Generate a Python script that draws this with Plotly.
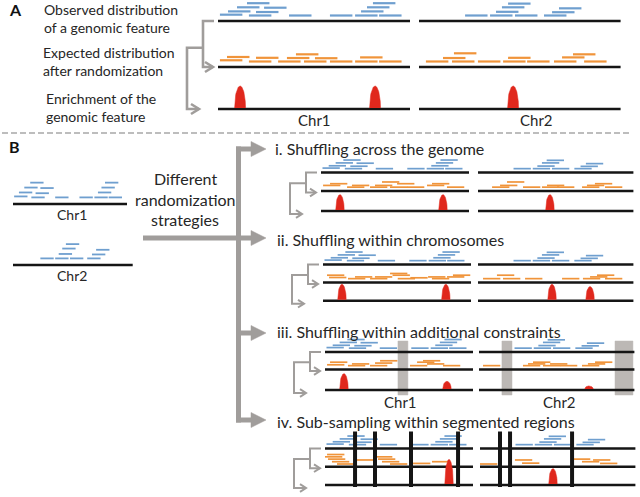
import numpy as np
import plotly.graph_objects as go

# ------------------------------------------------------------------ data
# Interval positions are in chromosome units (Chr1 = 100 units, Chr2 = 105 units);
# levels are stacking rows above the chromosome line.
CHR_LEN = [100, 105]
SEG_LEN = 11.7
PEAK_W = 5.7

# observed genomic feature (same in every panel)
OBS_CHR1_START = [15.1, 9.9, 24.0, 5.2, 19.8, 1.0, 16.1, 37.0, 58.3, 71.4, 83.9, 74.5, 77.6, 80.7]
OBS_CHR1_LEVEL = [3, 2, 1.9, 1, 0.85, 0.2, 0, 0, 0, 0, 0, 1, 2, 3]
OBS_CHR2_START = [46.4, 43.2, 40.1, 24.0, 37.0, 50.0, 72.9, 69.3, 65.1]
OBS_CHR2_LEVEL = [2.9, 2, 0.9, 0, 0, 0, 1.75, 0.8, 0]

# expected (randomised) intervals per panel
EXP_A_CHR1_START = [40.6, 4.7, 19.8, 35.9, 50.5, 74.0, 1.0, 16.1, 31.3, 44.8, 58.3, 71.4, 83.9]
EXP_A_CHR1_LEVEL = [1.75, 1.1, 0.9, 0.85, 0.8, 1.0, 0.3, 0, 0, 0, 0, 0, 0]
EXP_A_CHR2_START = [18.2, 12.5, 3.6, 17.2, 30.7, 43.8, 46.4, 56.3, 70.3, 74.5, 80.2, 86.0]
EXP_A_CHR2_LEVEL = [2, 0.85, 0, 0, 0, 0, 0.9, 0, 0, 1, 1.75, 0]

EXP_I_CHR1_START = [1.4, 6.1, 17.6, 20.9, 33.1, 36.5, 41.2, 46.6, 51.4, 58.1, 71.6, 75.0, 85.1]
EXP_I_CHR1_LEVEL = [0.6, 1.2, 0, 0.6, 0, 0.6, 1.8, 0, 1.2, 0, 0.6, 1.2, 0]
EXP_I_CHR2_START = [9.5, 14.9, 19.6, 30.4, 43.2, 46.6, 53.4, 70.3, 73.6, 79.0, 85.8]
EXP_I_CHR2_LEVEL = [0, 0.6, 1.8, 0, 0, 0.6, 0, 0, 0.6, 1.2, 0]

EXP_II_CHR1_START = [2.7, 4.1, 16.9, 21.6, 31.8, 35.1, 45.3, 47.0, 50.5, 59.0, 71.0, 73.6, 83.8, 87.8]
EXP_II_CHR1_LEVEL = [1.2, 0.4, 0, 0.6, 0, 0.6, 1.8, 1.2, 0, 0.3, 0.6, 0, 0.6, 1.2]
EXP_II_CHR2_START = [3.4, 12.8, 16.9, 31.8, 56.8, 70.9, 75.7, 80.4, 85.8]
EXP_II_CHR2_LEVEL = [0, 1.2, 0, 0, 0, 0, 0.6, 1.2, 0]

EXP_III_CHR1_START = [1.4, 3.4, 15.5, 18.2, 30.4, 33.8, 37.2, 57.4, 62.2, 66.2, 68.9, 79.7]
EXP_III_CHR1_LEVEL = [0.3, 1.2, 0, 0.6, 0, 0.9, 1.7, 0, 1.2, 1.7, 0.6, 0]
EXP_III_CHR2_START = [2.7, 29.7, 33.1, 36.5, 43.2, 48.0, 54.7, 69.6, 73.6, 78.4]
EXP_III_CHR2_LEVEL = [0, 0, 0.6, 1.2, 0, 0.6, 0, 0, 0.6, 1.2]

EXP_IV_CHR1_START = [0.0, 1.4, 2.0, 4.7, 8.1, 21.6, 33.8, 35.8, 38.5, 43.9, 59.5, 72.3]
EXP_IV_CHR1_LEVEL = [2.1, 2.9, 1.3, 0.4, -0.4, 1.0, 2.1, 1.3, 0.4, -0.4, -0.2, 0.4]
EXP_IV_CHR2_START = [0.0, 23.6, 28.4, 62.8, 68.9, 76.4, 81.1]
EXP_IV_CHR2_LEVEL = [-0.4, 1.0, -0.1, 1.3, 0.4, 1.0, -0.2]

# enrichment peaks: position (units) and relative height
PEAK_A_CHR1, PEAK_A_CHR1_H = [11.5, 81.8], [1.0, 1.0]
PEAK_A_CHR2, PEAK_A_CHR2_H = [49.0], [1.0]
PEAK_I_CHR1, PEAK_I_CHR1_H = [12.8, 82.4], [1.0, 1.0]
PEAK_I_CHR2, PEAK_I_CHR2_H = [48.6], [1.0]
PEAK_II_CHR1, PEAK_II_CHR1_H = [12.8, 83.0], [1.0, 1.0]
PEAK_II_CHR2, PEAK_II_CHR2_H = [50.0, 75.7], [1.0, 0.85]
PEAK_III_CHR1, PEAK_III_CHR1_H = [12.8, 82.4], [1.0, 0.5]
PEAK_III_CHR2, PEAK_III_CHR2_H = [74.3], [0.2]
PEAK_IV_CHR1, PEAK_IV_CHR1_H = [83.8], [1.6]
PEAK_IV_CHR2, PEAK_IV_CHR2_H = [49.3], [1.0]

# panel iii constraint regions (start, end units) and panel iv segment boundaries
CONSTRAINT_CHR1 = [(49.3, 56.0)]
CONSTRAINT_CHR2 = [(15.5, 22.3), (91.9, 104.0)]
BOUNDARY_CHR1 = [20.3, 33.8, 58.1, 89.9]
BOUNDARY_CHR2 = [13.5, 20.3, 62.2]

TEXT_A = ["Observed distribution", "of a genomic feature", "Expected distribution",
          "after randomization", "Enrichment of the", "genomic feature"]
TITLES_B = ["i. Shuffling across the genome", "ii. Shuffling within chromosomes",
            "iii. Shuffling within additional constraints", "iv. Sub-sampling within segmented regions"]
STRATEGY_TEXT = ["Different", "randomization", "strategies"]
CHR_NAMES = ["Chr1", "Chr2"]

# ------------------------------------------------------------------ style
BLUE = "#6f9fcf"
ORANGE = "#f0943a"
RED = "#e0281d"
BLACK = "#151515"
GRAY = "#a09d9b"
BARGRAY = "#bcb8b5"
TXT = "#262626"
FONT = "Lato"

fig = go.Figure()


def add_lines(xs, ys, color, width, dash=None):
    fig.add_trace(go.Scatter(x=xs, y=ys, mode="lines", hoverinfo="skip",
                             line=dict(color=color, width=width, dash=dash)))


def add_poly(xs, ys, color):
    fig.add_trace(go.Scatter(x=xs, y=ys, mode="lines", fill="toself", fillcolor=color,
                             hoverinfo="skip", line=dict(color=color, width=0.5)))


def features(x0, ppu, y_line, sy, starts, levels, color, width):
    xs, ys = [], []
    for s, l in zip(starts, levels):
        y = y_line - sy * (5.5 + 4.1 * l)
        xs += [x0 + s * ppu, x0 + (s + SEG_LEN) * ppu, None]
        ys += [y, y, None]
    add_lines(xs, ys, color, width)


def chrom_line(x0, ppu, y, length, width=2.6):
    add_lines([x0, x0 + length * ppu], [y, y], BLACK, width)


def peaks(x0, ppu, y_base, sy, pos, heights):
    xs, ys = [], []
    t = np.linspace(-1, 1, 41)
    for p, h in zip(pos, heights):
        cx = x0 + p * ppu
        hw = PEAK_W / 2 * ppu
        H = 22 * sy * h
        xs += list(cx + hw * t) + [None]
        ys += list(y_base - 1 - H * np.sqrt(1 - t ** 2)) + [None]
    add_poly(xs, ys, RED)


def chevron(xt, yt, L, h, width):
    add_lines([xt - L, xt, xt - L], [yt - h, yt, yt + h], GRAY, width)


def bracket(x0, y_obs, y_exp, y_enr, big):
    v1, v2 = x0 - 15, x0 - 31
    ym = y_obs + 0.58 * (y_exp - y_obs)
    w = 2.6 if big else 2.0
    yl = y_enr if big else y_enr + 3
    ye = y_exp if big else y_exp + 1.5
    add_lines([x0 - 4, v1, v1, x0 - 5], [y_obs, y_obs, ye, ye], GRAY, w)
    add_lines([v1, v2, v2, x0 - 19], [ym, ym, yl, yl], GRAY, w)
    L, h = (8, 5) if big else (6, 3.8)
    chevron(x0 - 5, ye, L, h, w)
    chevron(x0 - 19, yl, L, h, w)


PANELS = {
    "A": dict(x=[218, 419], ppu=1.92, obs=21, exp=67, enr=109, sy=1.0, lw=2.2,
              exp1=(EXP_A_CHR1_START, EXP_A_CHR1_LEVEL), exp2=(EXP_A_CHR2_START, EXP_A_CHR2_LEVEL),
              pk1=(PEAK_A_CHR1, PEAK_A_CHR1_H), pk2=(PEAK_A_CHR2, PEAK_A_CHR2_H)),
    "i": dict(x=[321, 478], ppu=1.48, obs=172.5, exp=191, enr=211, sy=0.7, lw=1.7,
              exp1=(EXP_I_CHR1_START, EXP_I_CHR1_LEVEL), exp2=(EXP_I_CHR2_START, EXP_I_CHR2_LEVEL),
              pk1=(PEAK_I_CHR1, PEAK_I_CHR1_H), pk2=(PEAK_I_CHR2, PEAK_I_CHR2_H)),
    "ii": dict(x=[323, 478], ppu=1.48, obs=264.5, exp=282.5, enr=300.7, sy=0.7, lw=1.7,
               exp1=(EXP_II_CHR1_START, EXP_II_CHR1_LEVEL), exp2=(EXP_II_CHR2_START, EXP_II_CHR2_LEVEL),
               pk1=(PEAK_II_CHR1, PEAK_II_CHR1_H), pk2=(PEAK_II_CHR2, PEAK_II_CHR2_H)),
    "iii": dict(x=[325, 479], ppu=1.48, obs=352, exp=369.5, enr=390, sy=0.7, lw=1.7,
                exp1=(EXP_III_CHR1_START, EXP_III_CHR1_LEVEL), exp2=(EXP_III_CHR2_START, EXP_III_CHR2_LEVEL),
                pk1=(PEAK_III_CHR1, PEAK_III_CHR1_H), pk2=(PEAK_III_CHR2, PEAK_III_CHR2_H)),
    "iv": dict(x=[325, 480], ppu=1.48, obs=448.5, exp=466.7, enr=485, sy=0.7, lw=1.7,
               exp1=(EXP_IV_CHR1_START, EXP_IV_CHR1_LEVEL), exp2=(EXP_IV_CHR2_START, EXP_IV_CHR2_LEVEL),
               pk1=(PEAK_IV_CHR1, PEAK_IV_CHR1_H), pk2=(PEAK_IV_CHR2, PEAK_IV_CHR2_H)),
}

# panel iii grey constraint regions (drawn beneath)
P3 = PANELS["iii"]
for ci, regs in enumerate([CONSTRAINT_CHR1, CONSTRAINT_CHR2]):
    for a, b in regs:
        xa, xb = P3["x"][ci] + a * P3["ppu"], P3["x"][ci] + b * P3["ppu"]
        add_poly([xa, xb, xb, xa, xa], [P3["obs"] - 11, P3["obs"] - 11, P3["enr"] + 5, P3["enr"] + 5, P3["obs"] - 11], BARGRAY)

for key, P in PANELS.items():
    obs_sets = [(OBS_CHR1_START, OBS_CHR1_LEVEL), (OBS_CHR2_START, OBS_CHR2_LEVEL)]
    for ci in range(2):
        x0 = P["x"][ci]
        for y in (P["obs"], P["exp"], P["enr"]):
            chrom_line(x0, P["ppu"], y, CHR_LEN[ci])
        features(x0, P["ppu"], P["obs"], P["sy"], *obs_sets[ci], BLUE, P["lw"])
        features(x0, P["ppu"], P["exp"], P["sy"], *P["exp%d" % (ci + 1)], ORANGE, P["lw"])
        peaks(x0, P["ppu"], P["enr"], P["sy"], *P["pk%d" % (ci + 1)])
    bracket(P["x"][0], P["obs"], P["exp"], P["enr"], key == "A")

# panel iv segment boundaries (drawn on top)
P4 = PANELS["iv"]
for ci, bnds in enumerate([BOUNDARY_CHR1, BOUNDARY_CHR2]):
    xs, ys = [], []
    for b in bnds:
        xb = P4["x"][ci] + b * P4["ppu"]
        xs += [xb, xb, None]
        ys += [P4["obs"] - 17, P4["enr"] + 2, None]
    add_lines(xs, ys, BLACK, 4)

# panel B left: observed feature on two chromosomes
for ci, (ys_line, st, lv) in enumerate([(204, OBS_CHR1_START, OBS_CHR1_LEVEL),
                                         (265, OBS_CHR2_START, OBS_CHR2_LEVEL)]):
    chrom_line(13, 1.14, ys_line, CHR_LEN[ci], 2.4)
    features(13, 1.14, ys_line, 1.2, st, lv, BLUE, 1.8)

# dashed separator
add_lines([2, 632], [133, 133], "#a8a8a8", 1.6, dash="6px,3px")

# big grey arrows
TRUNK_X = 238.5
ARROW_Y = [149, 238, 333, 420]
add_lines([TRUNK_X, TRUNK_X], [146.5, 422.5], GRAY, 5)
for i, ya in enumerate(ARROW_Y):
    xs0 = 143 if i == 1 else TRUNK_X - 2.5
    add_lines([xs0, 253], [ya, ya], GRAY, 5)
    add_poly([251, 266, 251, 251], [ya - 7.5, ya, ya + 7.5, ya - 7.5], GRAY)

# ------------------------------------------------------------------ text
ann = []
def txt(x, y, s, size, anchor="left", bold=False, color=TXT):
    ann.append(dict(x=x, y=y, xref="x", yref="y", text=("<b>%s</b>" % s) if bold else s,
                    showarrow=False, xanchor=anchor, yanchor="middle",
                    font=dict(family=FONT, size=size, color=color)))

txt(7, 9, "A", 16, bold=True, color="#111")
txt(7, 146, "B", 16, bold=True, color="#111")
A_TEXT_POS = [(42, 9), (42, 27), (41, 52), (41, 70), (44, 98), (44, 116)]
for s, (x, y) in zip(TEXT_A, A_TEXT_POS):
    txt(x, y, s, 14)
txt(314, 120, CHR_NAMES[0], 15, "center")
txt(536, 120, CHR_NAMES[1], 15, "center")
for s, y in zip(STRATEGY_TEXT, [178, 199, 219]):
    txt(185, y, s, 16, "center")
txt(72, 214, CHR_NAMES[0], 14, "center")
txt(72, 275, CHR_NAMES[1], 14, "center")
for s, (x, y) in zip(TITLES_B, [(273, 148), (275, 239), (275, 331), (275, 421)]):
    txt(x, y, s, 16)
txt(400, 402, CHR_NAMES[0], 15, "center")
txt(559, 402, CHR_NAMES[1], 15, "center")

fig.update_layout(
    width=640, height=497, margin=dict(l=0, r=0, t=0, b=0),
    paper_bgcolor="white", plot_bgcolor="white", showlegend=False,
    xaxis=dict(range=[0, 640], visible=False, fixedrange=True),
    yaxis=dict(range=[497, 0], visible=False, fixedrange=True),
    annotations=ann,
)
fig.write_html("out.html", config={"displayModeBar": False},
               post_script="document.body.style.margin='0';document.body.style.overflow='hidden';")
